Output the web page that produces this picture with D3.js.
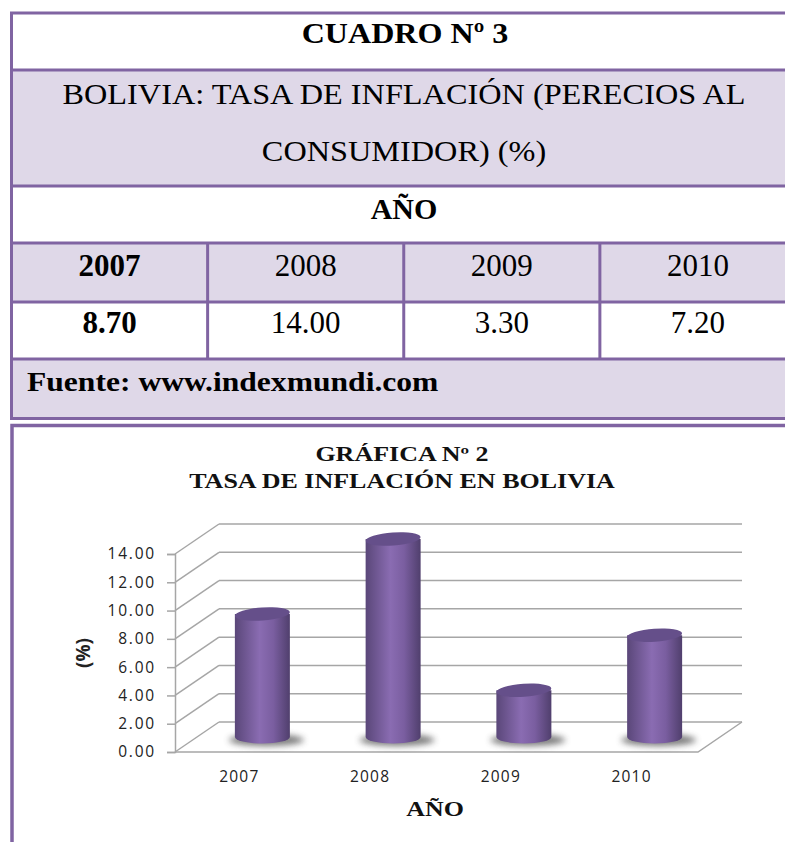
<!DOCTYPE html>
<html>
<head>
<meta charset="utf-8">
<script src="https://cdn.jsdelivr.net/npm/d3@7"></script>
<style>
  body { margin: 0; background: #fff; }
  svg { display: block; }
</style>
</head>
<body>
<div id="chart"></div>
<script>
const years = ['2007', '2008', '2009', '2010']
const values = [8.7, 14.0, 3.3, 7.2]
const valueLabels = ['8.70', '14.00', '3.30', '7.20']
const yTicks = [0, 2, 4, 6, 8, 10, 12, 14]

const tableTitle = 'CUADRO Nº 3'
const tableSubtitle = ['BOLIVIA: TASA DE INFLACIÓN (PERECIOS AL', 'CONSUMIDOR) (%)']
const tableHeader = 'AÑO'
const tableSource = 'Fuente: www.indexmundi.com'
const chartTitle = ['GRÁFICA Nº 2', 'TASA DE INFLACIÓN EN BOLIVIA']
const yTitle = '(%)'
const xTitle = 'AÑO'

const W = 785
const H = 842
const PURPLE = '#8064a2'
const LAV = '#dfd8e8'
const GRID = '#a6a6a6'
const SERIF = '"Liberation Serif", "Times New Roman", serif'
const SANS = '"Open Sans", "DejaVu Sans", sans-serif'

const svg = d3.select('#chart').append('svg').attr('width', W).attr('height', H)

// text with a horizontal stretch (the source picture is scaled unevenly)
const label = (parent, x, y, str, opts) => {
  const o = Object.assign({ size: 29, bold: false, sx: 1, anchor: 'middle', family: SERIF, fill: '#000' }, opts)
  return parent
    .append('text')
    .attr('transform', `translate(${x},${y}) scale(${o.sx},1)`)
    .attr('text-anchor', o.anchor)
    .attr('font-family', o.family)
    .attr('font-size', o.size)
    .attr('font-weight', o.bold ? 'bold' : 'normal')
    .attr('fill', o.fill)
    .text(str)
}

// ---------- table ----------
const tX0 = 11.5
const tX1 = 796
const rowY = [13, 70, 186, 243, 302, 359, 418.5]
const rowFill = ['#fff', LAV, '#fff', LAV, '#fff', LAV]
const colX = d3.scaleBand().domain(years).range([tX0, tX1])

const table = svg.append('g')

rowFill.forEach((f, i) => {
  table
    .append('rect')
    .attr('x', tX0)
    .attr('y', rowY[i])
    .attr('width', tX1 - tX0)
    .attr('height', rowY[i + 1] - rowY[i])
    .attr('fill', f)
})

rowY.forEach((y) => {
  table
    .append('line')
    .attr('x1', tX0 - 1.5)
    .attr('x2', tX1)
    .attr('y1', y)
    .attr('y2', y)
    .attr('stroke', PURPLE)
    .attr('stroke-width', 3)
})

table
  .append('line')
  .attr('x1', tX0)
  .attr('x2', tX0)
  .attr('y1', rowY[0])
  .attr('y2', rowY[6])
  .attr('stroke', PURPLE)
  .attr('stroke-width', 3)

years.slice(1).forEach((yr) => {
  table
    .append('line')
    .attr('x1', colX(yr))
    .attr('x2', colX(yr))
    .attr('y1', rowY[3])
    .attr('y2', rowY[5])
    .attr('stroke', PURPLE)
    .attr('stroke-width', 3)
})

label(table, 405, 43, tableTitle, { size: 30, bold: true, sx: 1.07 })
label(table, 404, 104, tableSubtitle[0], { size: 30, sx: 1.077 })
label(table, 404, 161, tableSubtitle[1], { size: 30, sx: 1.077 })
label(table, 404, 219, tableHeader, { size: 30, bold: true })
years.forEach((yr, i) => {
  const cx = colX(yr) + colX.bandwidth() / 2
  label(table, cx, 276, yr, { size: 31, bold: i === 0 })
  label(table, cx, 333, valueLabels[i], { size: 31, bold: i === 0 })
})
label(table, 27, 391, tableSource, { size: 27, bold: true, sx: 1.17, anchor: 'start' })

// ---------- chart box ----------
svg
  .append('rect')
  .attr('x', 12)
  .attr('y', 425.5)
  .attr('width', W + 20)
  .attr('height', H)
  .attr('fill', '#fff')
  .attr('stroke', PURPLE)
  .attr('stroke-width', 3.5)

const defs = svg.append('defs')
const grad = defs.append('linearGradient').attr('id', 'cyl').attr('x1', 0).attr('x2', 1)
grad.append('stop').attr('offset', '0%').attr('stop-color', '#5a4779')
grad.append('stop').attr('offset', '45%').attr('stop-color', '#8a6cb2')
grad.append('stop').attr('offset', '70%').attr('stop-color', '#7a5ea0')
grad.append('stop').attr('offset', '100%').attr('stop-color', '#503f6d')

const blur = defs.append('filter').attr('id', 'blur').attr('x', '-50%').attr('y', '-100%').attr('width', '200%').attr('height', '300%')
blur.append('feGaussianBlur').attr('stdDeviation', 3)

// titles
chartTitle.forEach((t, i) => {
  label(svg, 402, 461 + i * 27, t, { size: 20, bold: true, sx: 1.3, fill: '#111' })
})

// 3d plot geometry
const DX = 44
const DY = -30
const x = d3.scaleBand().domain(years).range([175, 698])
const y = d3.scaleLinear().domain([0, 14]).range([752, 554])

const plot = svg.append('g')

// back wall grid lines + side wall diagonals
yTicks.forEach((v) => {
  plot
    .append('line')
    .attr('x1', x.range()[0] + DX)
    .attr('x2', x.range()[1] + DX)
    .attr('y1', y(v) + DY)
    .attr('y2', y(v) + DY)
    .attr('stroke', GRID)
    .attr('stroke-width', 1.5)
  plot
    .append('line')
    .attr('x1', x.range()[0])
    .attr('x2', x.range()[0] + DX)
    .attr('y1', y(v))
    .attr('y2', y(v) + DY)
    .attr('stroke', GRID)
    .attr('stroke-width', 1.5)
})

// floor
plot
  .append('path')
  .attr(
    'd',
    `M${x.range()[0]},${y(0)} L${x.range()[1]},${y(0)} L${x.range()[1] + DX},${y(0) + DY}`
  )
  .attr('fill', 'none')
  .attr('stroke', GRID)
  .attr('stroke-width', 1.5)

// y axis
const yAxis = plot
  .append('g')
  .attr('transform', `translate(${x.range()[0]},0)`)
  .call(d3.axisLeft(y).tickValues(yTicks).tickFormat(d3.format('.2f')).tickSize(8).tickPadding(11))

yAxis.select('.domain').attr('stroke', GRID).attr('stroke-width', 1.5)
yAxis.selectAll('.tick line').attr('stroke', GRID).attr('stroke-width', 1.5)
yAxis
  .selectAll('.tick text')
  .attr('font-family', SANS)
  .attr('font-size', 15.5)
  .attr('letter-spacing', 1.8)
  .attr('fill', '#222')

// x labels
years.forEach((yr) => {
  plot
    .append('text')
    .attr('x', x(yr) + x.bandwidth() / 2 - 1)
    .attr('y', 782)
    .attr('text-anchor', 'middle')
    .attr('font-family', SANS)
    .attr('font-size', 15.5)
    .attr('letter-spacing', 1.2)
    .attr('fill', '#222')
    .text(yr)
})

// cylinders
const rx = 27.5
const ry = 6.5
years.forEach((yr, i) => {
  const cx = x(yr) + x.bandwidth() / 2 + DX / 2
  const yb = y(0) + DY / 2
  const yt = y(values[i]) + DY / 2

  plot
    .append('ellipse')
    .attr('cx', cx + 4)
    .attr('cy', yb + 3)
    .attr('rx', rx + 10)
    .attr('ry', 6)
    .attr('fill', '#444')
    .attr('opacity', 0.7)
    .attr('filter', 'url(#blur)')

  plot
    .append('path')
    .attr(
      'd',
      `M${cx - rx},${yt} L${cx - rx},${yb} A${rx},${ry} 0 0 0 ${cx + rx},${yb} L${cx + rx},${yt} Z`
    )
    .attr('fill', 'url(#cyl)')

  plot
    .append('ellipse')
    .attr('cx', cx)
    .attr('cy', yt)
    .attr('rx', rx)
    .attr('ry', ry)
    .attr('transform', `rotate(-4 ${cx} ${yt})`)
    .attr('fill', '#654f8a')
})

// axis titles
svg
  .append('text')
  .attr('transform', 'translate(90,653) rotate(-90)')
  .attr('text-anchor', 'middle')
  .attr('font-family', SANS)
  .attr('font-weight', 'bold')
  .attr('font-size', 19)
  .attr('fill', '#222')
  .text(yTitle)

label(svg, 435, 816, xTitle, { size: 22, bold: true, sx: 1.18, fill: '#111' })
</script>
</body>
</html>
